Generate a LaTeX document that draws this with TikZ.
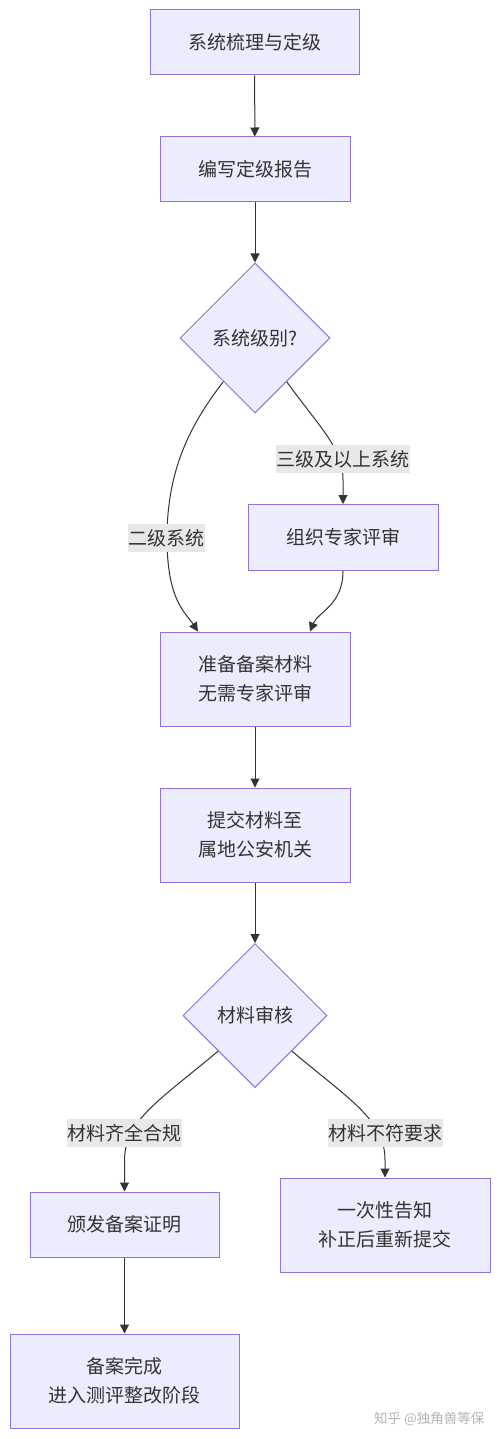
\documentclass[tikz,border=0pt]{standalone}
\usepackage{fontspec}
\setmainfont{Noto Sans CJK SC}
\usetikzlibrary{shapes.geometric,arrows.meta}
\definecolor{boxfill}{HTML}{ECECFF}
\definecolor{boxline}{HTML}{9370DB}
\definecolor{edgecol}{HTML}{333333}
\definecolor{labelbg}{HTML}{E8E8E8}
\definecolor{wmark}{HTML}{B4B4B4}
\begin{document}
\begin{tikzpicture}[x=1pt,y=-1pt,
  every node/.style={font=\fontsize{19}{29}\selectfont, text=edgecol},
  box/.style={draw=boxline, fill=boxfill, line width=1pt, inner sep=0pt, align=center},
  dia/.style={diamond, aspect=1, draw=boxline, fill=boxfill, line width=1pt, inner sep=0pt, align=center},
  elabel/.style={fill=labelbg, inner xsep=0.5pt, inner ysep=0pt, minimum height=28pt},
  conn/.style={draw=edgecol, line width=1pt, -{Triangle[length=9pt,width=9pt]}}
]
\useasboundingbox[fill=white] (0,0) rectangle (500,1439);

\node[box, minimum width=209pt, minimum height=65pt] (n1) at (254.5,42.5) {系统梳理与定级};
\node[box, minimum width=190pt, minimum height=65pt] (n2) at (255,169.5) {编写定级报告};
\node[dia, minimum width=150pt, minimum height=150pt] (d1) at (255,338) {系统级别?};
\node[box, minimum width=190pt, minimum height=66pt] (n4) at (343,537.5) {组织专家评审};
\node[box, minimum width=190pt, minimum height=94pt] (n5) at (255,679) {准备备案材料\\无需专家评审};
\node[box, minimum width=190pt, minimum height=94pt] (n6) at (255,835) {提交材料至\\属地公安机关};
\node[dia, minimum width=144pt, minimum height=144pt] (d2) at (255,1015.5) {材料审核};
\node[box, minimum width=189pt, minimum height=65pt] (n8) at (124.5,1224.5) {颁发备案证明};
\node[box, minimum width=210pt, minimum height=94pt] (n9) at (385,1225) {一次性告知\\补正后重新提交};
\node[box, minimum width=229pt, minimum height=94pt] (n10) at (124.5,1381) {备案完成\\进入测评整改阶段};

\draw[conn] (n1) -- (n2);
\draw[conn] (n2) -- (d1);
\draw[conn] (d1.234) .. controls (190,425) and (167,470) .. (167,538)
  .. controls (167,600) and (185,612) .. ([xshift=-57pt]n5.north);
\draw[conn] (d1.306) .. controls (320,428) and (343,448) .. (343,480) -- (n4.north);
\draw[conn] (n4.south) .. controls (343,605) and (318,612) .. ([xshift=55pt]n5.north);
\draw[conn] (n5) -- (n6);
\draw[conn] (n6) -- (d2);
\draw[conn] (d2.224) .. controls (160,1100) and (125,1120) .. (124.5,1160) -- (n8.north);
\draw[conn] (d2.316) .. controls (350,1100) and (385,1120) .. (385,1160) -- (n9.north);
\draw[conn] (n8) -- (n10);

\node[elabel] (l1) at (343,459) {三级及以上系统};
\node[elabel] (l2) at (166.5,538) {二级系统};
\node[elabel] (l3) at (124.5,1133) {材料齐全合规};
\node[elabel] (l4) at (385,1133) {材料不符要求};

\node[font=\fontsize{13.5}{16}\selectfont, text=wmark, anchor=east] (wm) at (488,1419) {知乎 @独角兽等保};
\end{tikzpicture}
\end{document}
